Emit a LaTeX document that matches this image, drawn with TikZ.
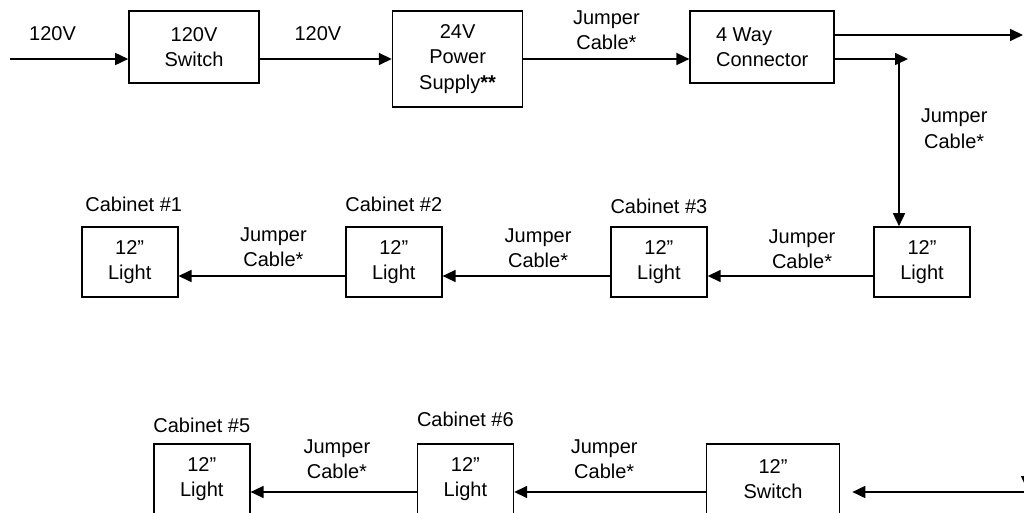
\documentclass[tikz,border=0pt]{standalone}
\usepackage{fontspec}
\setmainfont{Liberation Sans}
\usetikzlibrary{positioning, arrows.meta}

\begin{document}
\begin{tikzpicture}[
  x=1pt, y=-1pt,
  font=\fontsize{20}{25.5}\selectfont, >={Triangle[length=13pt,width=12pt]},
  box/.style={draw, line width=1.6pt, align=center, inner sep=2pt},
  unit/.style={box, minimum width=130pt, minimum height=72pt},
  lamp/.style={box, minimum width=96pt, minimum height=70pt},
  tag/.style={inner sep=2pt},
  wire/.style={->, line width=1.6pt},
  wirelabel/.style={align=center, inner sep=1pt},
]
\clip (0,0) rectangle (1024,513);
% ---- supply row ----
\node[unit] (sw1) at (194,47) {120V\\Switch};
\node[unit, minimum height=96pt, right=132pt of sw1.north east, anchor=north west] (psu)
  {24V\\Power\\Supply\textbf{**}};
\node[unit, minimum width=144pt, align=left, right=166pt of psu.north east, anchor=north west] (conn)
  {4 Way\\Connector};
% ---- first cabinet run ----
\node[lamp] (L4) at (922,262) {12”\\Light};
\node[lamp, left=165.5pt of L4] (L3) {12”\\Light};
\node[lamp, left=167.5pt of L3] (L2) {12”\\Light};
\node[lamp, left=166.5pt of L2] (L1) {12”\\Light};
\node[tag, above=12pt of L1, xshift=4pt] (t1) {Cabinet \#1};
\node[tag, above=12pt of L2] (t2) {Cabinet \#2};
\node[tag, above=10pt of L3] (t3) {Cabinet \#3};
% ---- second cabinet run ----
\node[lamp, minimum width=133pt] (sw2) at (773,479) {12”\\Switch};
\node[lamp, left=191.5pt of sw2] (L6) {12”\\Light};
\node[lamp, left=166pt of L6] (L5) {12”\\Light};
\node[tag, above=8pt of L5] (t5) {Cabinet \#5};
\node[tag, above=14pt of L6] (t6) {Cabinet \#6};
% ---- free ends ----
\coordinate (mains) at (10,59);
\coordinate (outA) at (1023,35);
\coordinate (tap) at (899,59);
\coordinate (tapend) at (908,59);
\coordinate (row2) at (0,276);
\coordinate (row3) at (0,492);
\coordinate (feedB) at (1024,492);
\coordinate (dropA) at (1027,440);
\coordinate (dropB) at (1027,489);
% ---- edges ----
\draw[wire] (mains) -- (sw1.west |- psu) node[pos=0.36, yshift=25pt] {120V};
\draw[wire] (sw1.east |- psu) -- (psu.west) node[pos=0.44, yshift=25pt] {120V};
\draw[wire] (psu.east) -- (conn.west |- psu)
  node[midway, wirelabel, yshift=29pt] {Jumper\\Cable*};
\draw[wire] (conn.east |- outA) -- (outA);
\draw[wire] (conn.east |- psu) -- (tapend);
\draw[wire] (tap) -- (tap |- L4.north)
  node[midway, wirelabel, anchor=west, xshift=20pt, yshift=14pt] {Jumper\\Cable*};
\draw[wire] (L4.west |- row2) -- (L3.east |- row2)
  node[pos=0.43, wirelabel, yshift=27pt] {Jumper\\Cable*};
\draw[wire] (L3.west |- row2) -- (L2.east |- row2)
  node[pos=0.43, wirelabel, yshift=28pt] {Jumper\\Cable*};
\draw[wire] (L2.west |- row2) -- (L1.east |- row2)
  node[pos=0.43, wirelabel, yshift=29pt] {Jumper\\Cable*};
\draw[wire] (feedB) -- ([xshift=12pt]sw2.east |- row3);
\draw[wire] (dropA) -- (dropB);
\draw[wire] (sw2.west |- row3) -- (L6.east |- row3)
  node[pos=0.53, wirelabel, yshift=33pt] {Jumper\\Cable*};
\draw[wire] (L6.west |- row3) -- (L5.east |- row3)
  node[pos=0.48, wirelabel, yshift=33pt] {Jumper\\Cable*};
\end{tikzpicture}
\end{document}
